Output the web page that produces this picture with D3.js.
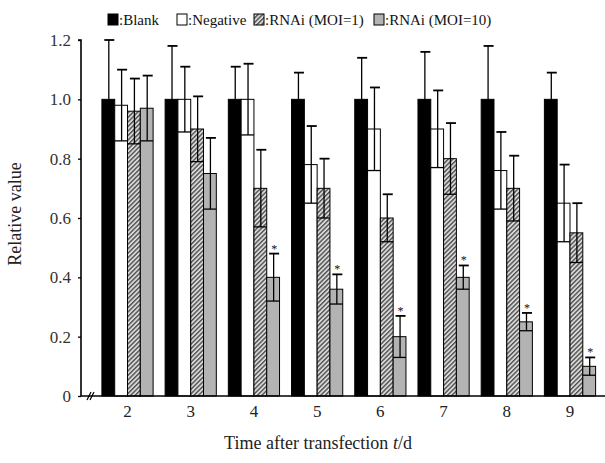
<!DOCTYPE html>
<html><head><meta charset="utf-8">
<script src="https://cdn.jsdelivr.net/npm/d3@7"></script>
<style>body{margin:0;background:#fff}svg{display:block}text{font-family:"Liberation Serif","Times New Roman",serif}</style>
</head><body>
<script>
const days = ["2","3","4","5","6","7","8","9"];
const seriesNames = [":Blank", ":Negative", ":RNAi (MOI=1)", ":RNAi (MOI=10)"];
const blank     = [1.00,1.00,1.00,1.00,1.00,1.00,1.00,1.00];
const blankErr  = [0.20,0.18,0.11,0.09,0.14,0.16,0.18,0.09];
const negative  = [0.98,1.00,1.00,0.78,0.90,0.90,0.76,0.65];
const negErr    = [0.12,0.11,0.12,0.13,0.14,0.13,0.13,0.13];
const moi1      = [0.96,0.90,0.70,0.70,0.60,0.80,0.70,0.55];
const moi1Err   = [0.11,0.11,0.13,0.10,0.08,0.12,0.11,0.10];
const moi10     = [0.97,0.75,0.40,0.36,0.20,0.40,0.25,0.10];
const moi10Err  = [0.11,0.12,0.08,0.05,0.07,0.04,0.03,0.03];
const significant = [false,false,true,true,true,true,true,true];
const yTicks = [0,0.2,0.4,0.6,0.8,1.0,1.2];

const W=605,H=463;
const svg=d3.select("body").append("svg").attr("width",W).attr("height",H);
const defs=svg.append("defs");
const pat=defs.append("pattern").attr("id","hatch").attr("patternUnits","userSpaceOnUse")
  .attr("width",3.2).attr("height",3.2).attr("patternTransform","rotate(45)");
pat.append("rect").attr("width",3.2).attr("height",3.2).attr("fill","#d9d9d9");
pat.append("rect").attr("width",1.4).attr("height",3.2).attr("fill","#505050");

const fills=["#000","#fff","url(#hatch)","#b3b3b3"];
const vals=[blank,negative,moi1,moi10];
const errs=[blankErr,negErr,moi1Err,moi10Err];

const y=d3.scaleLinear().domain([0,1.2]).range([396,40]);
const x=d3.scaleBand().domain(days).range([95.9,601.6]).paddingInner(0.19).paddingOuter(0.095);
const xs=d3.scaleBand().domain(d3.range(4)).range([0,x.bandwidth()]);

const data=[];
days.forEach((d,i)=>{for(let s=0;s<4;s++)data.push({d,i,s,v:vals[s][i],e:errs[s][i]});});

const g=svg.append("g");
g.selectAll("rect.bar").data(data).join("rect")
  .attr("x",p=>x(p.d)+xs(p.s)).attr("width",xs.bandwidth())
  .attr("y",p=>y(p.v)).attr("height",p=>y(0)-y(p.v))
  .attr("fill",p=>fills[p.s]).attr("stroke","#000").attr("stroke-width",1);

const eb=g.selectAll("g.eb").data(data).join("g").attr("stroke","#000").attr("stroke-width",1.3);
eb.append("line").attr("x1",p=>x(p.d)+xs(p.s)+xs.bandwidth()/2+0.5).attr("x2",p=>x(p.d)+xs(p.s)+xs.bandwidth()/2+0.5)
  .attr("y1",p=>y(p.v-p.e)).attr("y2",p=>y(p.v+p.e));
eb.append("line").attr("x1",p=>x(p.d)+xs(p.s)+xs.bandwidth()/2-4).attr("x2",p=>x(p.d)+xs(p.s)+xs.bandwidth()/2+6)
  .attr("y1",p=>y(p.v+p.e)).attr("y2",p=>y(p.v+p.e)).attr("stroke-width",1.8);
eb.filter(p=>p.s>0).append("line").attr("x1",p=>x(p.d)+xs(p.s)).attr("x2",p=>x(p.d)+xs(p.s)+xs.bandwidth())
  .attr("y1",p=>y(p.v-p.e)).attr("y2",p=>y(p.v-p.e));

g.selectAll("text.star").data(data.filter(p=>p.s===3&&significant[p.i])).join("text")
  .attr("x",p=>x(p.d)+xs(p.s)+xs.bandwidth()/2+1).attr("y",p=>y(p.v+p.e)-1)
  .attr("text-anchor","middle").attr("font-size",12).attr("fill","#111").text("*");

const yAxis=d3.axisLeft(y).tickValues(yTicks).tickSize(3).tickPadding(7)
  .tickFormat(v=>v===0?"0":d3.format(".1f")(v));
const ya=svg.append("g").attr("transform","translate(81,0)").call(yAxis);
ya.select(".domain").attr("stroke","#000").attr("stroke-width",1.6).attr("d","M-3,40H0V396");
ya.selectAll(".tick line").attr("stroke","#000").attr("stroke-width",1.3);
ya.selectAll(".tick text").attr("font-size",17).attr("fill","#333").attr("font-family","Liberation Serif");

const xAxis=d3.axisBottom(x).tickSize(0).tickPadding(9);
const xa=svg.append("g").attr("transform","translate(0,396)").call(xAxis);
xa.select(".domain").attr("stroke","#000").attr("stroke-width",1.6).attr("d","M81,0H605");
xa.selectAll(".tick text").attr("font-size",17).attr("fill","#222").attr("font-family","Liberation Serif");
svg.append("path").attr("d","M87,400L91,392M90,400L94,392").attr("stroke","#000").attr("stroke-width",1.2).attr("fill","none");

svg.append("text").attr("transform","translate(21,214) rotate(-90)").attr("text-anchor","middle")
  .attr("font-size",18).attr("fill","#222").text("Relative value");
const xt=svg.append("text").attr("x",318).attr("y",449).attr("text-anchor","middle").attr("font-size",18).attr("fill","#222");
xt.append("tspan").text("Time after transfection ");
xt.append("tspan").attr("font-style","italic").text("t");
xt.append("tspan").text("/d");

const legX=[108,177,254,374];
const lg=svg.append("g");
seriesNames.forEach((n,i)=>{
  lg.append("rect").attr("x",legX[i]).attr("y",14).attr("width",10).attr("height",11)
    .attr("fill",fills[i]).attr("stroke","#000").attr("stroke-width",1);
  lg.append("text").attr("x",legX[i]+11).attr("y",25).attr("font-size",15).attr("fill","#111").text(n);
});
</script>
</body></html>
